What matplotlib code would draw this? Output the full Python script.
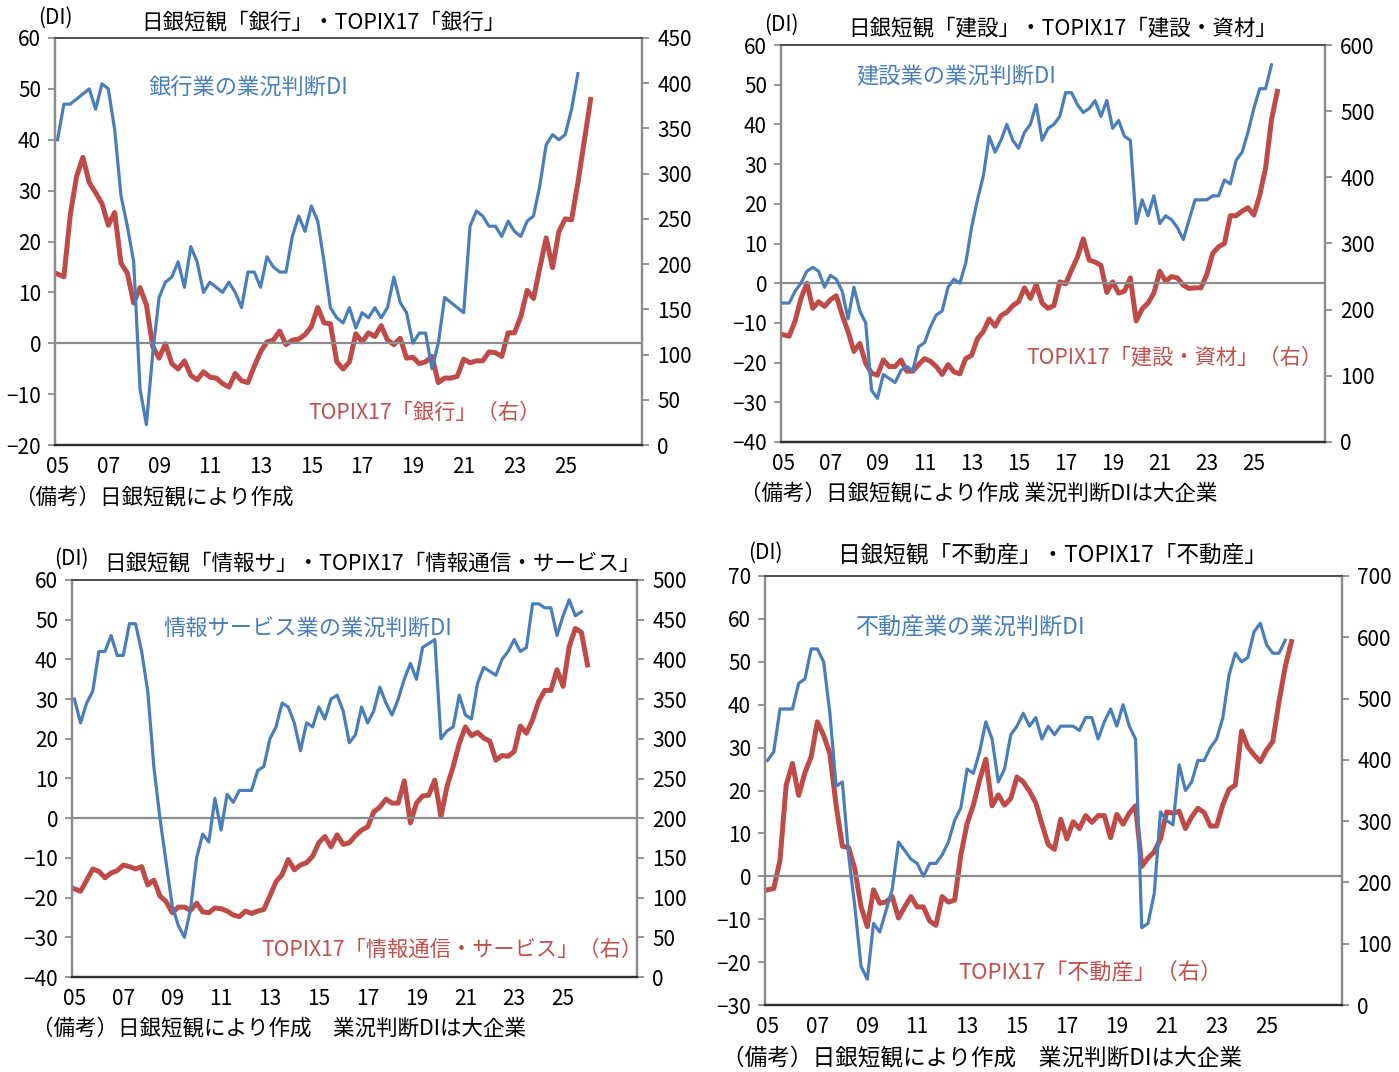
import numpy as np
import matplotlib
matplotlib.use('Agg')
import matplotlib.pyplot as plt

plt.rcParams['font.family'] = ['Noto Sans CJK JP', 'DejaVu Sans']

W, H = 1399, 1072
BLUE = '#4A7EBB'
RED = '#BE4B48'
RED_TXT = '#C0504D'

year_labels = ['05', '07', '09', '11', '13', '15', '17', '19', '21', '23', '25']

# quarterly series from 2005Q1
bank_di = [40, 47, 47, 48, 49, 50, 46, 51, 50, 42, 29, 23, 16, -9, -16, -2, 9, 12, 13, 16,
           11, 19, 16, 10, 12, 11, 10, 12, 10, 7, 14, 14, 11, 17, 15, 14, 14, 21, 25, 22,
           27, 24, 16, 7, 5, 4, 7, 3, 6, 5, 7, 5, 7, 13, 8, 6, 0, 2, 2, -5,
           0, 9, 8, 7, 6, 23, 26, 25, 23, 23, 21, 24, 22, 21, 24, 25, 31, 39, 41, 40,
           41, 46, 53]
bank_topix = [189, 186, 254, 297, 318, 290, 279, 267, 243, 257, 201, 190, 157, 174, 155, 109, 96, 112, 90, 84,
              93, 77, 72, 81, 75, 74, 68, 64, 79, 71, 69, 87, 103, 114, 116, 126, 111, 116, 117, 122,
              131, 152, 135, 134, 92, 84, 92, 123, 114, 124, 120, 132, 116, 111, 118, 96, 97, 90, 92, 98,
              69, 74, 74, 76, 95, 91, 93, 93, 103, 102, 98, 124, 124, 142, 171, 162, 196, 229, 196, 236,
              250, 249, 290, 336, 382]

cons_di = [-5, -5, -2, 0, 3, 4, 3, -1, 2, 1, -2, -9, -1, -7, -10, -27, -29, -23, -24, -25,
           -22, -21, -22, -16, -15, -11, -8, -7, -1, 1, 0, 5, 14, 21, 27, 37, 33, 36, 40, 36,
           34, 38, 40, 45, 36, 39, 40, 42, 48, 48, 45, 43, 44, 46, 42, 46, 39, 41, 37, 36,
           15, 21, 17, 22, 15, 17, 16, 14, 11, 16, 21, 21, 21, 22, 22, 26, 25, 31, 33, 38,
           44, 49, 49, 55]
cons_topix = [162, 160, 183, 217, 240, 202, 212, 205, 215, 221, 192, 167, 137, 149, 119, 104, 101, 124, 114, 114,
              124, 107, 107, 117, 126, 122, 114, 102, 117, 106, 103, 126, 131, 156, 167, 186, 175, 191, 196, 206,
              212, 233, 217, 238, 210, 202, 206, 242, 239, 260, 279, 307, 275, 272, 267, 226, 242, 225, 228, 248,
              183, 201, 210, 225, 258, 243, 250, 248, 237, 232, 233, 233, 253, 285, 295, 300, 342, 342, 349, 354,
              343, 373, 414, 487, 530]

info_di = [30, 24, 29, 32, 42, 42, 46, 41, 41, 49, 49, 42, 32, 13, 0, -11, -22, -27, -30, -23,
           -10, -4, -6, 5, -3, 6, 4, 7, 7, 7, 12, 13, 20, 23, 29, 28, 24, 17, 24, 23,
           28, 25, 30, 31, 27, 19, 21, 28, 24, 27, 33, 29, 26, 30, 35, 39, 35, 43, 44, 45,
           20, 22, 23, 31, 26, 25, 34, 38, 37, 36, 40, 42, 45, 42, 43, 54, 54, 53, 53, 46,
           51, 55, 51, 52]
info_topix = [111, 108, 122, 136, 133, 125, 131, 134, 141, 139, 136, 139, 116, 122, 102, 95, 81, 88, 88, 84,
              93, 82, 81, 87, 86, 83, 78, 76, 83, 80, 83, 85, 102, 120, 129, 148, 135, 141, 144, 152,
              169, 177, 164, 179, 167, 169, 178, 185, 189, 208, 214, 224, 219, 219, 247, 194, 219, 228, 229, 248,
              202, 240, 265, 294, 315, 304, 308, 301, 297, 273, 279, 278, 284, 316, 307, 324, 347, 361, 361, 387,
              366, 416, 439, 434, 393]

real_di = [27, 29, 39, 39, 39, 45, 46, 53, 53, 50, 38, 21, 22, 5, -7, -21, -24, -11, -13, -8,
           -3, 8, 6, 4, 3, 0, 3, 3, 5, 8, 13, 16, 25, 24, 29, 36, 32, 22, 25, 33,
           35, 38, 35, 37, 32, 35, 33, 35, 35, 35, 34, 37, 37, 32, 36, 39, 35, 40, 35, 32,
           -12, -11, -4, 15, 13, 12, 26, 20, 22, 27, 27, 30, 32, 37, 47, 52, 50, 51, 57, 59,
           54, 52, 52, 55]
real_topix = [188, 190, 236, 359, 394, 342, 379, 405, 462, 440, 410, 326, 259, 257, 222, 160, 128, 188, 166, 168,
              177, 142, 160, 177, 160, 160, 137, 130, 177, 168, 171, 245, 296, 326, 367, 401, 325, 343, 326, 337,
              372, 364, 349, 330, 295, 262, 254, 303, 271, 299, 288, 309, 298, 309, 309, 273, 311, 295, 313, 325,
              226, 240, 250, 271, 315, 313, 316, 288, 307, 321, 314, 292, 292, 327, 352, 359, 447, 421, 408, 397,
              416, 430, 495, 552, 593]

fig = plt.figure(figsize=(W / 100, H / 100), dpi=100)

TITLE_FS = 15.5
BLUE_FS = 16
RED_FS = 15.3
NOTE_FS = 15.5
DI_FS = 15


def ftext(x, y, s, **kw):
    kw.setdefault('va', 'center')
    kw.setdefault('ha', 'left')
    fig.text(x / W, 1 - y / H, s, **kw)


def panel(rect, di, topix, lylim, lstep, rylim, rstep):
    l, t, r, b = rect
    ax = fig.add_axes([l / W, 1 - b / H, (r - l) / W, (b - t) / H])
    ax2 = ax.twinx()
    ax.axhline(0, color='#8C8C8C', lw=1.6, zorder=1)
    ax.plot(np.arange(len(di)), di, color=BLUE, lw=2.3, zorder=3, solid_joinstyle='round')
    ax2.plot(np.arange(len(topix)), topix, color=RED, lw=3.6, zorder=3, solid_joinstyle='round')
    ax.set_xlim(-0.4, 92.1)
    ax.set_ylim(*lylim)
    ax2.set_ylim(*rylim)
    ax.set_yticks(np.arange(lylim[0], lylim[1] + 0.1, lstep))
    ax2.set_yticks(np.arange(rylim[0], rylim[1] + 0.1, rstep))
    ax.set_xticks(np.arange(0, 81, 8))
    ax.set_xticklabels(year_labels)
    ax.tick_params(axis='x', length=0, labelsize=15, pad=8)
    ax.tick_params(axis='y', direction='out', length=5, width=1.3, color='#8C8C8C',
                   labelsize=15, pad=5)
    ax2.tick_params(axis='y', direction='out', length=5, width=1.3, color='#8C8C8C',
                    labelsize=15, pad=6)
    for a in (ax, ax2):
        a.spines['top'].set_color('#505050')
        a.spines['top'].set_linewidth(1.3)
        a.spines['bottom'].set_color('#303030')
        a.spines['bottom'].set_linewidth(1.6)
        a.spines['left'].set_color('#8C8C8C')
        a.spines['left'].set_linewidth(1.6)
        a.spines['right'].set_color('#8C8C8C')
        a.spines['right'].set_linewidth(1.6)
    ax.set_zorder(ax2.get_zorder() + 1)
    ax.patch.set_visible(False)
    return ax, ax2


# Panel 1: banks
panel((55, 38, 642, 445), bank_di, bank_topix, (-20, 60), 10, (0, 450), 50)
ftext(38, 18, '(DI)', fontsize=DI_FS)
ftext(141, 22, '日銀短観「銀行」・TOPIX17「銀行」', fontsize=TITLE_FS)
ftext(149, 88, '銀行業の業況判断DI', fontsize=BLUE_FS, color=BLUE)
ftext(308, 413, 'TOPIX17「銀行」（右）', fontsize=RED_FS, color=RED_TXT)
ftext(14, 497, '（備考）日銀短観により作成', fontsize=NOTE_FS)

# Panel 2: construction
panel((781, 45, 1325, 442), cons_di, cons_topix, (-40, 60), 10, (0, 600), 100)
ftext(764, 25, '(DI)', fontsize=DI_FS)
ftext(848, 28, '日銀短観「建設」・TOPIX17「建設・資材」', fontsize=TITLE_FS)
ftext(856, 77, '建設業の業況判断DI', fontsize=BLUE_FS, color=BLUE)
ftext(1026, 357, 'TOPIX17「建設・資材」（右）', fontsize=RED_FS, color=RED_TXT)
ftext(740, 493, '（備考）日銀短観により作成 業況判断DIは大企業', fontsize=NOTE_FS)

# Panel 3: information services
panel((72, 580, 637, 977), info_di, info_topix, (-40, 60), 10, (0, 500), 50)
ftext(54, 559, '(DI)', fontsize=DI_FS)
ftext(104, 563, '日銀短観「情報サ」・TOPIX17「情報通信・サービス」', fontsize=TITLE_FS)
ftext(163, 628, '情報サービス業の業況判断DI', fontsize=BLUE_FS, color=BLUE)
ftext(261, 950, 'TOPIX17「情報通信・サービス」（右）', fontsize=RED_FS, color=RED_TXT)
ftext(32, 1028, '（備考）日銀短観により作成　業況判断DIは大企業', fontsize=NOTE_FS)

# Panel 4: real estate
panel((765, 576, 1342, 1005), real_di, real_topix, (-30, 70), 10, (0, 700), 100)
ftext(748, 553, '(DI)', fontsize=DI_FS)
ftext(838, 555, '日銀短観「不動産」・TOPIX17「不動産」', fontsize=16.3)
ftext(856, 628, '不動産業の業況判断DI', fontsize=16.6, color=BLUE)
ftext(958, 974, 'TOPIX17「不動産」（右）', fontsize=15.9, color=RED_TXT)
ftext(722, 1058, '（備考）日銀短観により作成　業況判断DIは大企業', fontsize=16.3)

fig.savefig('out.png', dpi=100)
